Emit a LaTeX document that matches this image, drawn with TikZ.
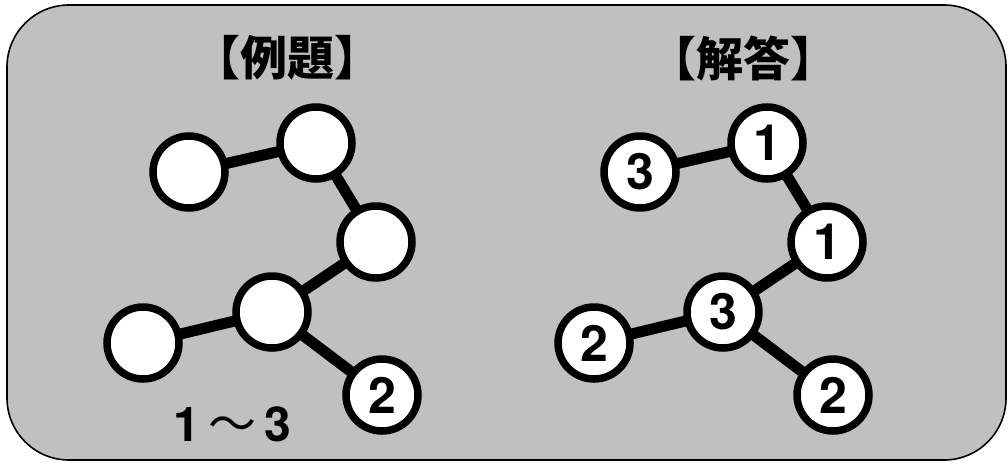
\documentclass[tikz,border=0pt]{standalone}
\usepackage{fontspec}
\setmainfont{TeX Gyre Heros}
\newfontfamily\cjk{Noto Sans CJK JP}
\definecolor{panelgray}{HTML}{C0C0C0}
\begin{document}
\begin{tikzpicture}[x=1pt,y=-1pt,
  ball/.style={circle,draw=black,fill=white,line width=7.5pt,minimum size=72pt,inner sep=0pt,outer sep=0pt,
    font=\fontsize{50}{50}\selectfont\bfseries},
  bond/.style={line width=11pt,black},
  title/.style={font=\cjk\bfseries\fontsize{47}{47}\selectfont,inner sep=0pt}]
\useasboundingbox (0,0) rectangle (1008,464);
\draw[fill=panelgray,line width=1.6pt,rounded corners=62pt] (7,5) rectangle (1006,460);
% titles
\node[title] (t1) at (287,58) {【例題】};
\node[title] (t2) at (743,58) {【解答】};
% left graph
\node[ball] (a) at (189,172) {};
\node[ball] (b) at (316,143) {};
\node[ball] (c) at (376,242) {};
\node[ball] (d) at (272,312) {};
\node[ball] (e) at (143,343) {};
\node[ball] (f) at (382,395) {2};
\draw[bond] (a) -- (b);
\draw[bond] (b) -- (c);
\draw[bond] (c) -- (d);
\draw[bond] (d) -- (e);
\draw[bond] (d) -- (f);
\node[inner sep=0pt,font=\fontsize{48}{48}\selectfont\bfseries] (range) at (232,424) {1\,{\cjk\mdseries ～}\,3};
% right graph
\begin{scope}[xshift=451pt]
\node[ball] (a2) at (189,172) {3};
\node[ball] (b2) at (316,143) {1};
\node[ball] (c2) at (376,242) {1};
\node[ball] (d2) at (272,312) {3};
\node[ball] (e2) at (143,343) {2};
\node[ball] (f2) at (382,395) {2};
\draw[bond] (a2) -- (b2);
\draw[bond] (b2) -- (c2);
\draw[bond] (c2) -- (d2);
\draw[bond] (d2) -- (e2);
\draw[bond] (d2) -- (f2);
\end{scope}
\end{tikzpicture}
\end{document}
